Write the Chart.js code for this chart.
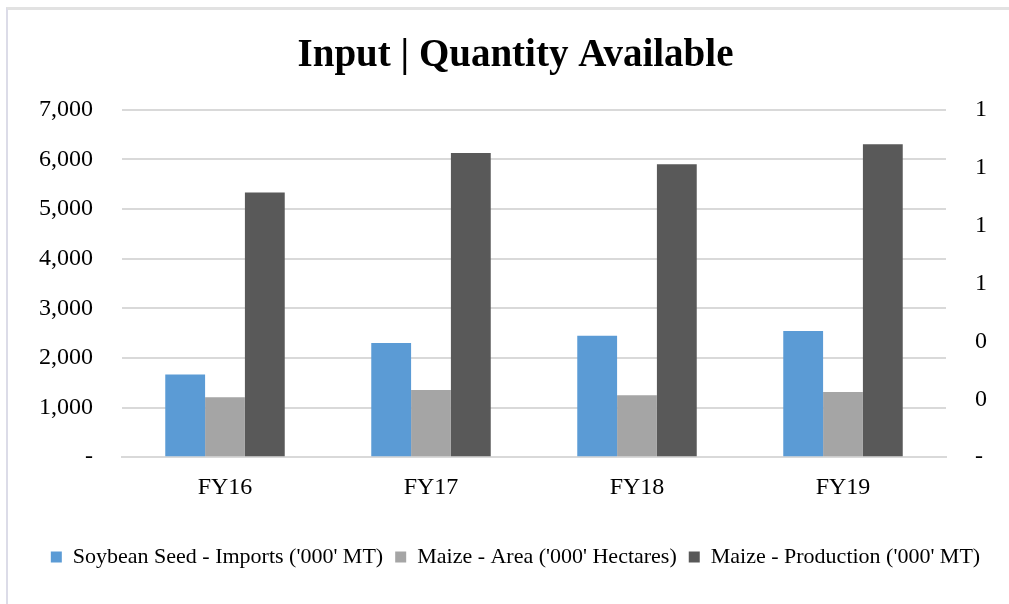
<!DOCTYPE html>
<html>
<head>
<meta charset="utf-8">
<script src="https://cdn.jsdelivr.net/npm/chart.js@4.4.1/dist/chart.umd.min.js"></script>
<style>
  html, body { margin: 0; padding: 0; background: #ffffff; }
  #wrap { position: relative; width: 1009px; height: 604px; overflow: hidden; }
  #frame { position: absolute; left: 6px; top: 7px; right: -10px; bottom: -10px;
           border-top: 3px solid #e2e2e2; border-left: 2px solid #dcdce8; }
  canvas { position: absolute; left: 0; top: 0; }
</style>
</head>
<body>
<div id="wrap">
  <div id="frame"></div>
  <canvas id="c" width="1009" height="604"></canvas>
</div>
<script>
const categories = ["FY16", "FY17", "FY18", "FY19"];
const soybeanImports = [1665, 2300, 2448, 2545];
const maizeArea = [1208, 1355, 1250, 1315];
const maizeProduction = [5335, 6130, 5901, 6306];
const seriesNames = ["Soybean Seed - Imports ('000' MT)", "Maize - Area ('000' Hectares)", "Maize - Production ('000' MT)"];
const leftTicks = [0, 1000, 2000, 3000, 4000, 5000, 6000, 7000];
const rightTicks = [0, 0.2, 0.4, 0.6, 0.8, 1.0, 1.2];

const FONT = "'Liberation Serif', 'Times New Roman', serif";
const PAD_LEFT = 22;
const PLOT_LEFT = 122, PLOT_RIGHT = 946;

new Chart(document.getElementById('c'), {
  type: 'bar',
  data: {
    labels: categories,
    datasets: [
      { label: seriesNames[0], data: soybeanImports, backgroundColor: '#5b9bd5', yAxisID: 'y' },
      { label: seriesNames[1], data: maizeArea, backgroundColor: '#a5a5a5', yAxisID: 'y' },
      { label: seriesNames[2], data: maizeProduction, backgroundColor: '#595959', yAxisID: 'y' }
    ]
  },
  options: {
    responsive: false,
    animation: false,
    events: [],
    datasets: { bar: { categoryPercentage: 0.58, barPercentage: 1.0 } },
    layout: { padding: { left: PAD_LEFT, right: 0, top: 0, bottom: 26 } },
    plugins: {
      tooltip: { enabled: false },
      title: {
        display: true,
        text: 'Input | Quantity Available',
        color: '#000000',
        font: { family: FONT, size: 39, weight: 'bold' },
        padding: { top: 33, bottom: 30 }
      },
      legend: {
        position: 'bottom',
        labels: {
          color: '#000000',
          font: { family: FONT, size: 22 },
          boxWidth: 11,
          boxHeight: 11,
          padding: 12
        }
      }
    },
    scales: {
      x: {
        grid: { display: false, drawTicks: false },
        border: { display: true, color: '#d9d9d9', width: 2 },
        ticks: { color: '#000000', font: { family: FONT, size: 24 }, padding: 16 },
        afterFit: (s) => { s.height += 16; }
      },
      y: {
        position: 'left',
        min: 0, max: 7000,
        afterBuildTicks: (s) => { s.ticks = leftTicks.map(v => ({ value: v })); },
        afterFit: (s) => { s.width = PLOT_LEFT - PAD_LEFT; },
        grid: { color: '#d9d9d9', lineWidth: 2, drawTicks: false },
        border: { display: false },
        ticks: {
          color: '#000000', font: { family: FONT, size: 24 }, padding: 29,
          callback: (v) => v === 0 ? '-' : v.toLocaleString('en-US')
        }
      },
      y2: {
        position: 'right',
        min: 0, max: 1.2,
        afterBuildTicks: (s) => { s.ticks = rightTicks.map(v => ({ value: v })); },
        afterFit: (s) => { s.width = 1009 - PLOT_RIGHT; },
        grid: { display: false, drawTicks: false },
        border: { display: false },
        ticks: {
          color: '#000000', font: { family: FONT, size: 24 }, padding: 29,
          callback: (v) => v === 0 ? '-' : Math.round(v).toString()
        }
      }
    }
  }
});
</script>
</body>
</html>
